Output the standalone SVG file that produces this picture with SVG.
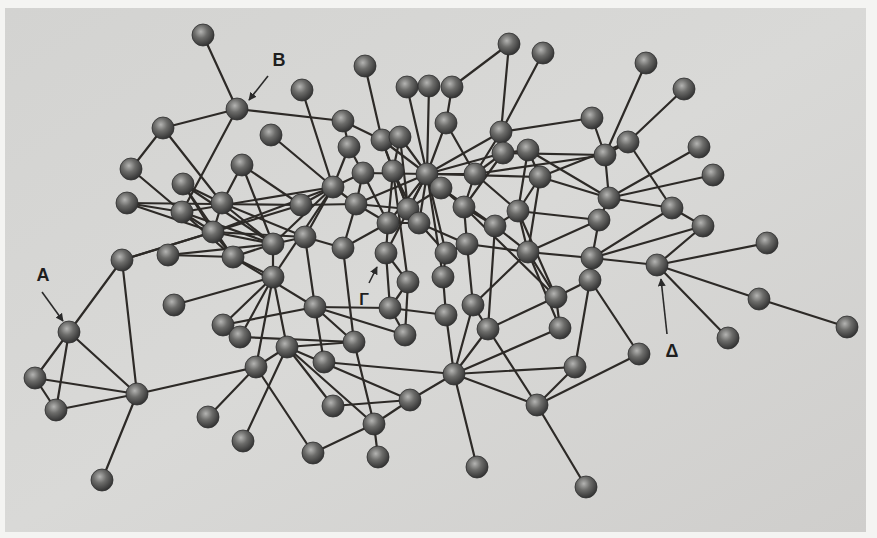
<svg xmlns="http://www.w3.org/2000/svg" width="877" height="538" viewBox="0 0 877 538">
<defs>
<radialGradient id="ball" cx="0.4" cy="0.35" r="0.65">
<stop offset="0" stop-color="#b4b4b2"/>
<stop offset="0.45" stop-color="#6c6c6a"/>
<stop offset="1" stop-color="#343434"/>
</radialGradient>
<linearGradient id="bg" x1="0" y1="0" x2="1" y2="1">
<stop offset="0" stop-color="#d3d3d1"/>
<stop offset="0.5" stop-color="#d9d9d7"/>
<stop offset="1" stop-color="#cfcecc"/>
</linearGradient>
<marker id="ah" viewBox="0 0 10 10" refX="9" refY="5" markerWidth="5" markerHeight="5" orient="auto">
<path d="M0,0 L10,5 L0,10 z" fill="#2a2a2a"/>
</marker>
</defs>
<style>
.n{fill:url(#ball);stroke:#2e2e2e;stroke-width:0.8}
#edges line{stroke:#2d2a27;stroke-width:2.2;stroke-linecap:round}
.lbl{font-family:"Liberation Sans",Arial,sans-serif;font-weight:bold;font-size:18px;fill:#1e1e1e;text-anchor:middle}
.arr{stroke:#2a2a2a;stroke-width:1.6;fill:none;marker-end:url(#ah)}
</style>
<rect x="0" y="0" width="877" height="538" fill="#f4f4f2"/>
<rect x="5" y="8" width="861" height="524" fill="url(#bg)"/>
<g id="edges">
<line x1="203" y1="35" x2="237" y2="109"/>
<line x1="237" y1="109" x2="163" y2="128"/>
<line x1="237" y1="109" x2="343" y2="121"/>
<line x1="237" y1="109" x2="182" y2="212"/>
<line x1="163" y1="128" x2="131" y2="169"/>
<line x1="163" y1="128" x2="222" y2="203"/>
<line x1="131" y1="169" x2="182" y2="212"/>
<line x1="127" y1="203" x2="301" y2="205"/>
<line x1="127" y1="203" x2="182" y2="212"/>
<line x1="127" y1="203" x2="213" y2="232"/>
<line x1="183" y1="184" x2="213" y2="232"/>
<line x1="183" y1="184" x2="222" y2="203"/>
<line x1="183" y1="184" x2="233" y2="257"/>
<line x1="183" y1="184" x2="273" y2="244"/>
<line x1="242" y1="165" x2="222" y2="203"/>
<line x1="242" y1="165" x2="301" y2="205"/>
<line x1="242" y1="165" x2="273" y2="244"/>
<line x1="271" y1="135" x2="333" y2="187"/>
<line x1="182" y1="212" x2="213" y2="232"/>
<line x1="182" y1="212" x2="273" y2="244"/>
<line x1="222" y1="203" x2="213" y2="232"/>
<line x1="222" y1="203" x2="273" y2="244"/>
<line x1="222" y1="203" x2="305" y2="237"/>
<line x1="213" y1="232" x2="233" y2="257"/>
<line x1="213" y1="232" x2="305" y2="237"/>
<line x1="213" y1="232" x2="273" y2="244"/>
<line x1="122" y1="260" x2="213" y2="232"/>
<line x1="122" y1="260" x2="301" y2="205"/>
<line x1="122" y1="260" x2="69" y2="332"/>
<line x1="122" y1="260" x2="137" y2="394"/>
<line x1="168" y1="255" x2="233" y2="257"/>
<line x1="233" y1="257" x2="273" y2="244"/>
<line x1="168" y1="255" x2="273" y2="244"/>
<line x1="273" y1="244" x2="273" y2="277"/>
<line x1="273" y1="244" x2="333" y2="187"/>
<line x1="273" y1="244" x2="305" y2="237"/>
<line x1="301" y1="205" x2="333" y2="187"/>
<line x1="301" y1="205" x2="356" y2="204"/>
<line x1="182" y1="212" x2="233" y2="257"/>
<line x1="182" y1="212" x2="333" y2="187"/>
<line x1="69" y1="332" x2="35" y2="378"/>
<line x1="69" y1="332" x2="56" y2="410"/>
<line x1="69" y1="332" x2="137" y2="394"/>
<line x1="35" y1="378" x2="56" y2="410"/>
<line x1="35" y1="378" x2="137" y2="394"/>
<line x1="56" y1="410" x2="137" y2="394"/>
<line x1="137" y1="394" x2="102" y2="480"/>
<line x1="137" y1="394" x2="256" y2="367"/>
<line x1="174" y1="305" x2="273" y2="277"/>
<line x1="223" y1="325" x2="273" y2="277"/>
<line x1="223" y1="325" x2="315" y2="307"/>
<line x1="240" y1="337" x2="273" y2="277"/>
<line x1="240" y1="337" x2="354" y2="342"/>
<line x1="273" y1="277" x2="256" y2="367"/>
<line x1="273" y1="277" x2="287" y2="347"/>
<line x1="233" y1="257" x2="273" y2="277"/>
<line x1="256" y1="367" x2="208" y2="417"/>
<line x1="256" y1="367" x2="287" y2="347"/>
<line x1="256" y1="367" x2="313" y2="453"/>
<line x1="287" y1="347" x2="243" y2="441"/>
<line x1="287" y1="347" x2="333" y2="406"/>
<line x1="287" y1="347" x2="374" y2="424"/>
<line x1="287" y1="347" x2="410" y2="400"/>
<line x1="273" y1="277" x2="333" y2="187"/>
<line x1="315" y1="307" x2="390" y2="308"/>
<line x1="315" y1="307" x2="405" y2="335"/>
<line x1="315" y1="307" x2="354" y2="342"/>
<line x1="315" y1="307" x2="324" y2="362"/>
<line x1="315" y1="307" x2="233" y2="257"/>
<line x1="315" y1="307" x2="305" y2="237"/>
<line x1="354" y1="342" x2="374" y2="424"/>
<line x1="354" y1="342" x2="343" y2="248"/>
<line x1="354" y1="342" x2="287" y2="347"/>
<line x1="324" y1="362" x2="454" y2="374"/>
<line x1="333" y1="406" x2="410" y2="400"/>
<line x1="374" y1="424" x2="410" y2="400"/>
<line x1="374" y1="424" x2="313" y2="453"/>
<line x1="374" y1="424" x2="378" y2="457"/>
<line x1="410" y1="400" x2="454" y2="374"/>
<line x1="454" y1="374" x2="477" y2="467"/>
<line x1="454" y1="374" x2="537" y2="405"/>
<line x1="454" y1="374" x2="488" y2="329"/>
<line x1="454" y1="374" x2="473" y2="305"/>
<line x1="454" y1="374" x2="446" y2="315"/>
<line x1="454" y1="374" x2="560" y2="328"/>
<line x1="454" y1="374" x2="575" y2="367"/>
<line x1="537" y1="405" x2="586" y2="487"/>
<line x1="537" y1="405" x2="488" y2="329"/>
<line x1="537" y1="405" x2="575" y2="367"/>
<line x1="537" y1="405" x2="639" y2="354"/>
<line x1="390" y1="308" x2="408" y2="282"/>
<line x1="390" y1="308" x2="446" y2="315"/>
<line x1="390" y1="308" x2="405" y2="335"/>
<line x1="390" y1="308" x2="386" y2="253"/>
<line x1="408" y1="282" x2="405" y2="335"/>
<line x1="408" y1="282" x2="386" y2="253"/>
<line x1="443" y1="277" x2="446" y2="315"/>
<line x1="443" y1="277" x2="446" y2="253"/>
<line x1="473" y1="305" x2="488" y2="329"/>
<line x1="473" y1="305" x2="467" y2="244"/>
<line x1="473" y1="305" x2="528" y2="252"/>
<line x1="556" y1="297" x2="590" y2="280"/>
<line x1="556" y1="297" x2="560" y2="328"/>
<line x1="556" y1="297" x2="528" y2="252"/>
<line x1="575" y1="367" x2="590" y2="280"/>
<line x1="639" y1="354" x2="590" y2="280"/>
<line x1="488" y1="329" x2="495" y2="226"/>
<line x1="488" y1="329" x2="556" y2="297"/>
<line x1="657" y1="265" x2="759" y2="299"/>
<line x1="759" y1="299" x2="847" y2="327"/>
<line x1="657" y1="265" x2="728" y2="338"/>
<line x1="657" y1="265" x2="592" y2="258"/>
<line x1="657" y1="265" x2="767" y2="243"/>
<line x1="657" y1="265" x2="703" y2="226"/>
<line x1="590" y1="280" x2="592" y2="258"/>
<line x1="592" y1="258" x2="599" y2="220"/>
<line x1="592" y1="258" x2="672" y2="208"/>
<line x1="592" y1="258" x2="703" y2="226"/>
<line x1="592" y1="258" x2="528" y2="252"/>
<line x1="592" y1="118" x2="605" y2="155"/>
<line x1="646" y1="63" x2="605" y2="155"/>
<line x1="684" y1="89" x2="628" y2="142"/>
<line x1="628" y1="142" x2="672" y2="208"/>
<line x1="628" y1="142" x2="605" y2="155"/>
<line x1="605" y1="155" x2="609" y2="198"/>
<line x1="699" y1="147" x2="609" y2="198"/>
<line x1="713" y1="175" x2="609" y2="198"/>
<line x1="609" y1="198" x2="672" y2="208"/>
<line x1="609" y1="198" x2="599" y2="220"/>
<line x1="672" y1="208" x2="703" y2="226"/>
<line x1="592" y1="118" x2="501" y2="132"/>
<line x1="605" y1="155" x2="503" y2="153"/>
<line x1="609" y1="198" x2="528" y2="150"/>
<line x1="609" y1="198" x2="540" y2="177"/>
<line x1="599" y1="220" x2="518" y2="211"/>
<line x1="599" y1="220" x2="528" y2="252"/>
<line x1="628" y1="142" x2="540" y2="177"/>
<line x1="605" y1="155" x2="475" y2="174"/>
<line x1="509" y1="44" x2="501" y2="132"/>
<line x1="543" y1="53" x2="501" y2="132"/>
<line x1="509" y1="44" x2="452" y2="87"/>
<line x1="452" y1="87" x2="446" y2="123"/>
<line x1="365" y1="66" x2="382" y2="140"/>
<line x1="302" y1="90" x2="333" y2="187"/>
<line x1="407" y1="87" x2="427" y2="174"/>
<line x1="429" y1="86" x2="427" y2="174"/>
<line x1="446" y1="123" x2="427" y2="174"/>
<line x1="446" y1="123" x2="475" y2="174"/>
<line x1="501" y1="132" x2="427" y2="174"/>
<line x1="501" y1="132" x2="475" y2="174"/>
<line x1="501" y1="132" x2="503" y2="153"/>
<line x1="503" y1="153" x2="427" y2="174"/>
<line x1="503" y1="153" x2="528" y2="150"/>
<line x1="503" y1="153" x2="464" y2="207"/>
<line x1="528" y1="150" x2="540" y2="177"/>
<line x1="528" y1="150" x2="518" y2="211"/>
<line x1="343" y1="121" x2="382" y2="140"/>
<line x1="343" y1="121" x2="349" y2="147"/>
<line x1="349" y1="147" x2="363" y2="173"/>
<line x1="349" y1="147" x2="333" y2="187"/>
<line x1="382" y1="140" x2="427" y2="174"/>
<line x1="382" y1="140" x2="393" y2="171"/>
<line x1="382" y1="140" x2="408" y2="209"/>
<line x1="400" y1="137" x2="427" y2="174"/>
<line x1="400" y1="137" x2="393" y2="171"/>
<line x1="400" y1="137" x2="408" y2="209"/>
<line x1="363" y1="173" x2="333" y2="187"/>
<line x1="363" y1="173" x2="427" y2="174"/>
<line x1="363" y1="173" x2="356" y2="204"/>
<line x1="363" y1="173" x2="388" y2="223"/>
<line x1="393" y1="171" x2="408" y2="209"/>
<line x1="393" y1="171" x2="388" y2="223"/>
<line x1="393" y1="171" x2="419" y2="223"/>
<line x1="333" y1="187" x2="356" y2="204"/>
<line x1="333" y1="187" x2="305" y2="237"/>
<line x1="356" y1="204" x2="388" y2="223"/>
<line x1="356" y1="204" x2="343" y2="248"/>
<line x1="356" y1="204" x2="427" y2="174"/>
<line x1="356" y1="204" x2="408" y2="209"/>
<line x1="408" y1="209" x2="419" y2="223"/>
<line x1="408" y1="209" x2="427" y2="174"/>
<line x1="408" y1="209" x2="441" y2="188"/>
<line x1="388" y1="223" x2="386" y2="253"/>
<line x1="388" y1="223" x2="343" y2="248"/>
<line x1="419" y1="223" x2="446" y2="253"/>
<line x1="419" y1="223" x2="427" y2="174"/>
<line x1="419" y1="223" x2="467" y2="244"/>
<line x1="441" y1="188" x2="427" y2="174"/>
<line x1="441" y1="188" x2="464" y2="207"/>
<line x1="441" y1="188" x2="495" y2="226"/>
<line x1="464" y1="207" x2="495" y2="226"/>
<line x1="464" y1="207" x2="467" y2="244"/>
<line x1="464" y1="207" x2="427" y2="174"/>
<line x1="464" y1="207" x2="556" y2="297"/>
<line x1="475" y1="174" x2="427" y2="174"/>
<line x1="475" y1="174" x2="518" y2="211"/>
<line x1="475" y1="174" x2="503" y2="153"/>
<line x1="475" y1="174" x2="464" y2="207"/>
<line x1="540" y1="177" x2="518" y2="211"/>
<line x1="540" y1="177" x2="427" y2="174"/>
<line x1="540" y1="177" x2="528" y2="252"/>
<line x1="518" y1="211" x2="528" y2="252"/>
<line x1="518" y1="211" x2="495" y2="226"/>
<line x1="495" y1="226" x2="528" y2="252"/>
<line x1="467" y1="244" x2="528" y2="252"/>
<line x1="446" y1="253" x2="467" y2="244"/>
<line x1="305" y1="237" x2="343" y2="248"/>
<line x1="388" y1="223" x2="419" y2="223"/>
<line x1="427" y1="174" x2="446" y2="253"/>
<line x1="427" y1="174" x2="386" y2="253"/>
<line x1="427" y1="174" x2="388" y2="223"/>
<line x1="518" y1="211" x2="556" y2="297"/>
<line x1="528" y1="252" x2="560" y2="328"/>
<line x1="427" y1="174" x2="443" y2="277"/>
<line x1="393" y1="171" x2="408" y2="282"/>
<line x1="213" y1="232" x2="333" y2="187"/>
</g>
<g id="n1"><circle class="n" cx="203" cy="35" r="11"/></g>
<g id="nB"><circle class="n" cx="237" cy="109" r="11"/></g>
<g id="n3"><circle class="n" cx="163" cy="128" r="11"/></g>
<g id="n4"><circle class="n" cx="271" cy="135" r="11"/></g>
<g id="n5"><circle class="n" cx="131" cy="169" r="11"/></g>
<g id="n6"><circle class="n" cx="242" cy="165" r="11"/></g>
<g id="n7"><circle class="n" cx="183" cy="184" r="11"/></g>
<g id="n8"><circle class="n" cx="127" cy="203" r="11"/></g>
<g id="n9"><circle class="n" cx="182" cy="212" r="11"/></g>
<g id="n10"><circle class="n" cx="222" cy="203" r="11"/></g>
<g id="n11"><circle class="n" cx="301" cy="205" r="11"/></g>
<g id="n12"><circle class="n" cx="213" cy="232" r="11"/></g>
<g id="n13"><circle class="n" cx="168" cy="255" r="11"/></g>
<g id="n14"><circle class="n" cx="233" cy="257" r="11"/></g>
<g id="n15"><circle class="n" cx="273" cy="244" r="11"/></g>
<g id="n16"><circle class="n" cx="122" cy="260" r="11"/></g>
<g id="nA"><circle class="n" cx="69" cy="332" r="11"/></g>
<g id="n18"><circle class="n" cx="35" cy="378" r="11"/></g>
<g id="n19"><circle class="n" cx="56" cy="410" r="11"/></g>
<g id="n20"><circle class="n" cx="137" cy="394" r="11"/></g>
<g id="n21"><circle class="n" cx="102" cy="480" r="11"/></g>
<g id="n22"><circle class="n" cx="174" cy="305" r="11"/></g>
<g id="n23"><circle class="n" cx="223" cy="325" r="11"/></g>
<g id="n24"><circle class="n" cx="240" cy="337" r="11"/></g>
<g id="n25"><circle class="n" cx="273" cy="277" r="11"/></g>
<g id="n26"><circle class="n" cx="287" cy="347" r="11"/></g>
<g id="n27"><circle class="n" cx="256" cy="367" r="11"/></g>
<g id="n28"><circle class="n" cx="208" cy="417" r="11"/></g>
<g id="n29"><circle class="n" cx="243" cy="441" r="11"/></g>
<g id="n30"><circle class="n" cx="315" cy="307" r="11"/></g>
<g id="n31"><circle class="n" cx="354" cy="342" r="11"/></g>
<g id="n32"><circle class="n" cx="324" cy="362" r="11"/></g>
<g id="n33"><circle class="n" cx="333" cy="406" r="11"/></g>
<g id="n34"><circle class="n" cx="374" cy="424" r="11"/></g>
<g id="n35"><circle class="n" cx="313" cy="453" r="11"/></g>
<g id="n36"><circle class="n" cx="378" cy="457" r="11"/></g>
<g id="n37"><circle class="n" cx="410" cy="400" r="11"/></g>
<g id="n38"><circle class="n" cx="454" cy="374" r="11"/></g>
<g id="n39"><circle class="n" cx="477" cy="467" r="11"/></g>
<g id="n40"><circle class="n" cx="537" cy="405" r="11"/></g>
<g id="n41"><circle class="n" cx="586" cy="487" r="11"/></g>
<g id="n42"><circle class="n" cx="390" cy="308" r="11"/></g>
<g id="n43"><circle class="n" cx="408" cy="282" r="11"/></g>
<g id="n44"><circle class="n" cx="443" cy="277" r="11"/></g>
<g id="n45"><circle class="n" cx="446" cy="315" r="11"/></g>
<g id="n46"><circle class="n" cx="473" cy="305" r="11"/></g>
<g id="n47"><circle class="n" cx="488" cy="329" r="11"/></g>
<g id="n48"><circle class="n" cx="405" cy="335" r="11"/></g>
<g id="n49"><circle class="n" cx="556" cy="297" r="11"/></g>
<g id="n50"><circle class="n" cx="560" cy="328" r="11"/></g>
<g id="n51"><circle class="n" cx="575" cy="367" r="11"/></g>
<g id="n52"><circle class="n" cx="639" cy="354" r="11"/></g>
<g id="n53"><circle class="n" cx="590" cy="280" r="11"/></g>
<g id="n54"><circle class="n" cx="592" cy="258" r="11"/></g>
<g id="nDelta"><circle class="n" cx="657" cy="265" r="11"/></g>
<g id="n56"><circle class="n" cx="759" cy="299" r="11"/></g>
<g id="n57"><circle class="n" cx="847" cy="327" r="11"/></g>
<g id="n58"><circle class="n" cx="728" cy="338" r="11"/></g>
<g id="n59"><circle class="n" cx="767" cy="243" r="11"/></g>
<g id="n60"><circle class="n" cx="703" cy="226" r="11"/></g>
<g id="n61"><circle class="n" cx="672" cy="208" r="11"/></g>
<g id="n62"><circle class="n" cx="713" cy="175" r="11"/></g>
<g id="n63"><circle class="n" cx="699" cy="147" r="11"/></g>
<g id="n64"><circle class="n" cx="684" cy="89" r="11"/></g>
<g id="n65"><circle class="n" cx="646" cy="63" r="11"/></g>
<g id="n66"><circle class="n" cx="592" cy="118" r="11"/></g>
<g id="n67"><circle class="n" cx="628" cy="142" r="11"/></g>
<g id="n68"><circle class="n" cx="605" cy="155" r="11"/></g>
<g id="n69"><circle class="n" cx="609" cy="198" r="11"/></g>
<g id="n70"><circle class="n" cx="599" cy="220" r="11"/></g>
<g id="n71"><circle class="n" cx="509" cy="44" r="11"/></g>
<g id="n72"><circle class="n" cx="543" cy="53" r="11"/></g>
<g id="n73"><circle class="n" cx="365" cy="66" r="11"/></g>
<g id="n74"><circle class="n" cx="302" cy="90" r="11"/></g>
<g id="n75"><circle class="n" cx="407" cy="87" r="11"/></g>
<g id="n76"><circle class="n" cx="429" cy="86" r="11"/></g>
<g id="n77"><circle class="n" cx="452" cy="87" r="11"/></g>
<g id="n78"><circle class="n" cx="446" cy="123" r="11"/></g>
<g id="n79"><circle class="n" cx="343" cy="121" r="11"/></g>
<g id="n80"><circle class="n" cx="501" cy="132" r="11"/></g>
<g id="n81"><circle class="n" cx="349" cy="147" r="11"/></g>
<g id="n82"><circle class="n" cx="382" cy="140" r="11"/></g>
<g id="n83"><circle class="n" cx="400" cy="137" r="11"/></g>
<g id="n84"><circle class="n" cx="503" cy="153" r="11"/></g>
<g id="n85"><circle class="n" cx="528" cy="150" r="11"/></g>
<g id="n86"><circle class="n" cx="427" cy="174" r="11"/></g>
<g id="n87"><circle class="n" cx="363" cy="173" r="11"/></g>
<g id="n88"><circle class="n" cx="393" cy="171" r="11"/></g>
<g id="n89"><circle class="n" cx="475" cy="174" r="11"/></g>
<g id="n90"><circle class="n" cx="540" cy="177" r="11"/></g>
<g id="n91"><circle class="n" cx="333" cy="187" r="11"/></g>
<g id="n92"><circle class="n" cx="441" cy="188" r="11"/></g>
<g id="n94"><circle class="n" cx="356" cy="204" r="11"/></g>
<g id="n95"><circle class="n" cx="464" cy="207" r="11"/></g>
<g id="n96"><circle class="n" cx="408" cy="209" r="11"/></g>
<g id="n97"><circle class="n" cx="518" cy="211" r="11"/></g>
<g id="n98"><circle class="n" cx="388" cy="223" r="11"/></g>
<g id="n99"><circle class="n" cx="419" cy="223" r="11"/></g>
<g id="n100"><circle class="n" cx="495" cy="226" r="11"/></g>
<g id="n101"><circle class="n" cx="305" cy="237" r="11"/></g>
<g id="n102"><circle class="n" cx="343" cy="248" r="11"/></g>
<g id="n103"><circle class="n" cx="386" cy="253" r="11"/></g>
<g id="n104"><circle class="n" cx="446" cy="253" r="11"/></g>
<g id="n105"><circle class="n" cx="467" cy="244" r="11"/></g>
<g id="n106"><circle class="n" cx="528" cy="252" r="11"/></g>
<g id="labels">
<text class="lbl" x="279" y="66">B</text>
<line class="arr" x1="268" y1="76" x2="249" y2="100"/>
<text class="lbl" x="43" y="281">A</text>
<line class="arr" x1="42" y1="292" x2="63" y2="321"/>
<text class="lbl" x="364" y="305" style="font-size:16px">Γ</text>
<line class="arr" x1="369" y1="283" x2="377" y2="267"/>
<text class="lbl" x="672" y="357">Δ</text>
<line class="arr" x1="667" y1="334" x2="661" y2="279"/>
</g>
</svg>
